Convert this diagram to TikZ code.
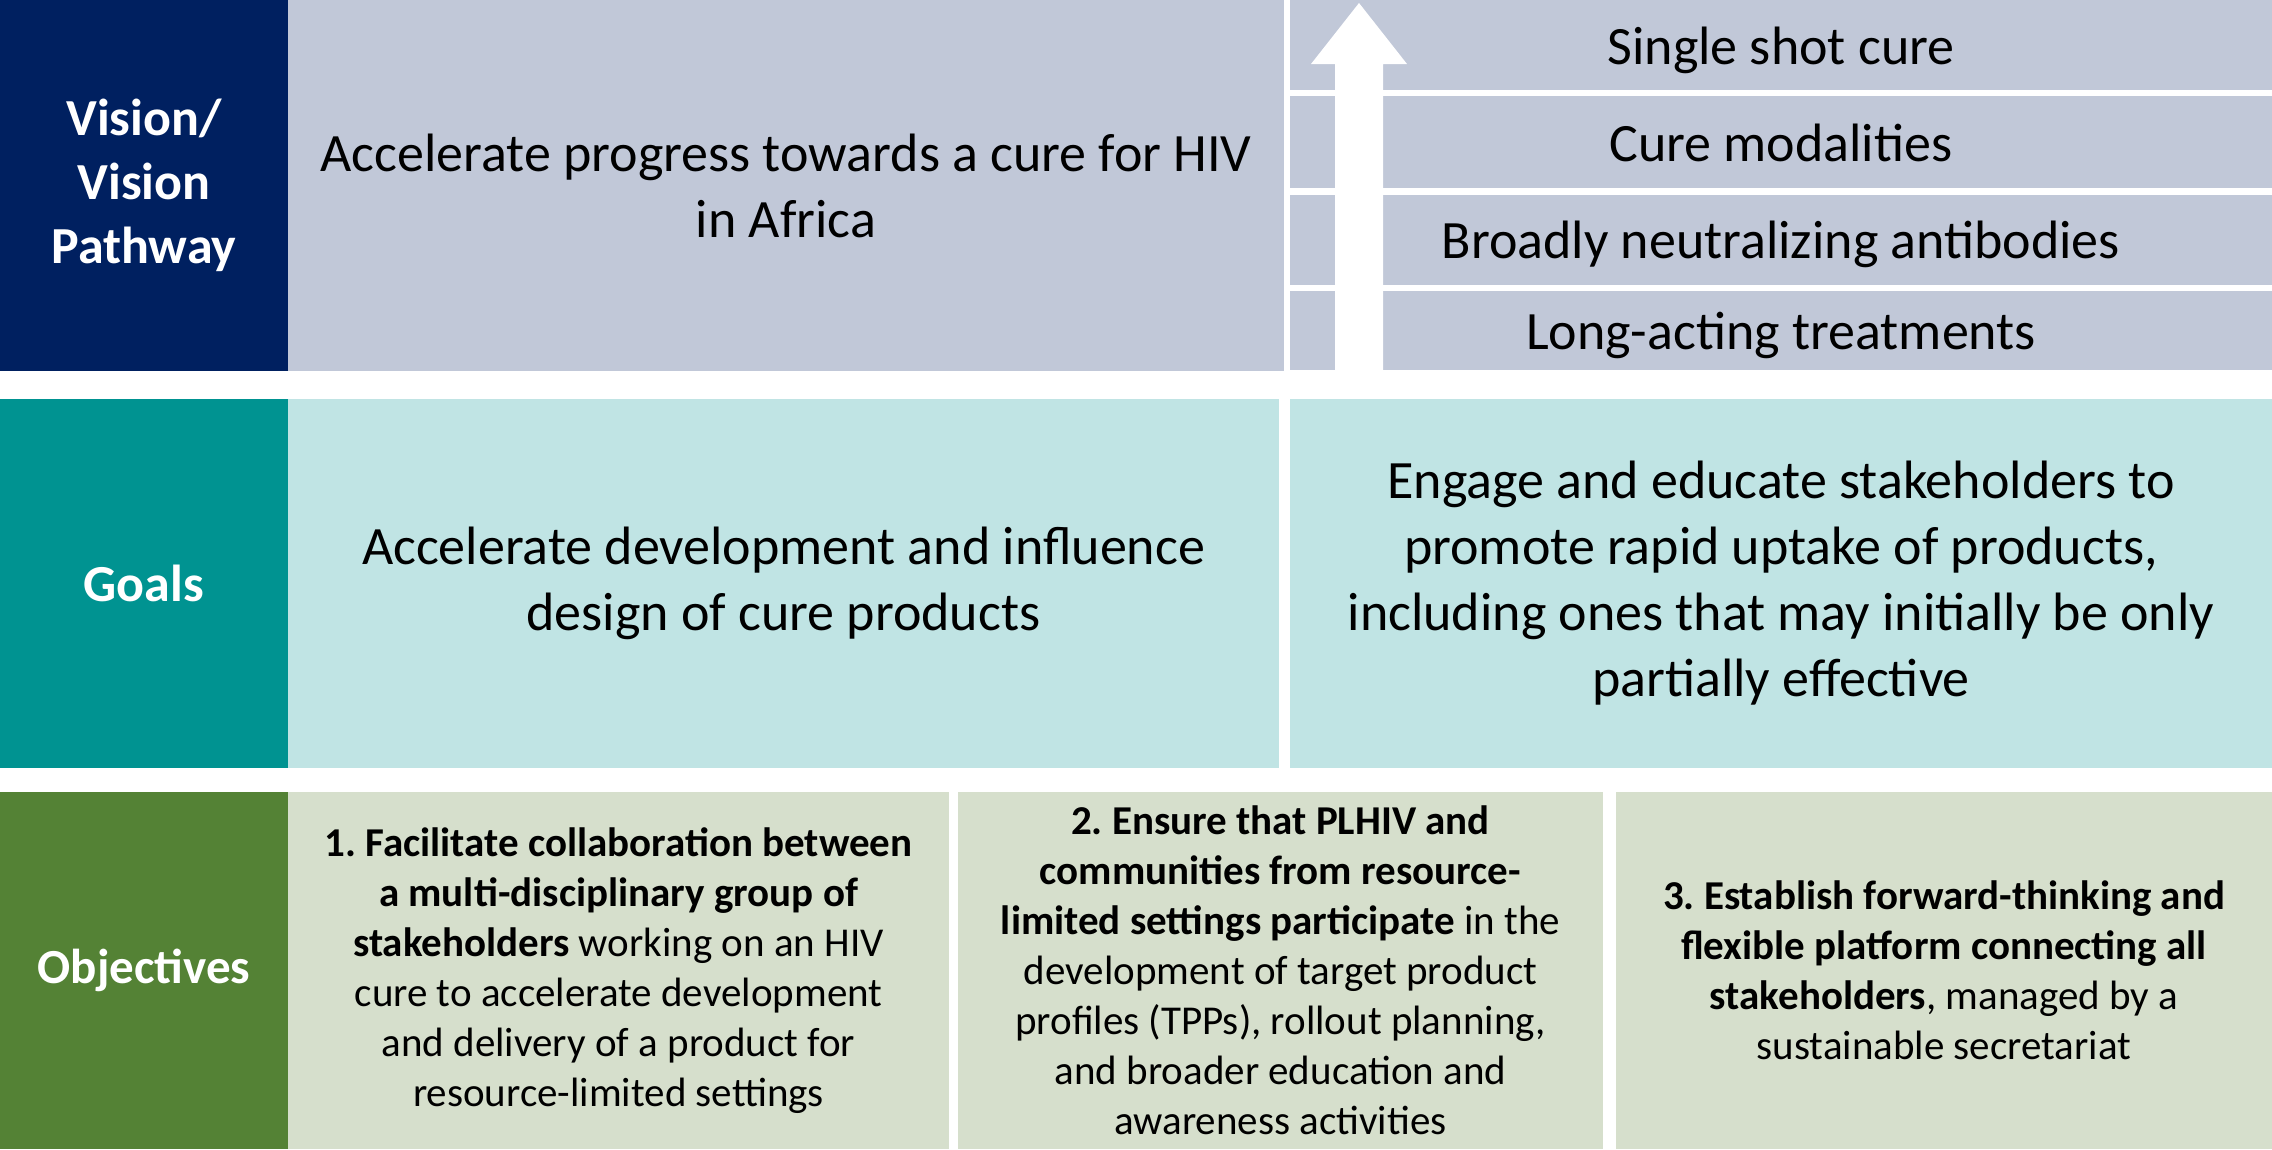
\documentclass[tikz,border=0pt]{standalone}
\usepackage{fontspec}
\setmainfont{Carlito}
\frenchspacing
\definecolor{navy}{RGB}{0,32,96}
\definecolor{lav}{RGB}{193,200,216}
\definecolor{teal}{RGB}{0,147,145}
\definecolor{lteal}{RGB}{192,228,228}
\definecolor{grn}{RGB}{84,130,53}
\definecolor{lgrn}{RGB}{214,223,204}
\tikzset{
  cell/.style={inner sep=0pt, outer sep=0pt, align=center, text=black},
  lab/.style={cell, text=white, font=\fontsize{52}{64}\selectfont\bfseries},
  big/.style={cell, font=\fontsize{54}{66}\selectfont},
  obj/.style={cell, font=\fontsize{41}{50}\selectfont},
}
\begin{document}
\begin{tikzpicture}[x=1pt,y=-1pt]
\useasboundingbox[fill=white] (0,0) rectangle (2272,1149);
% Vision row
\node[lab, fill=navy, minimum width=288pt, minimum height=371pt] (vl) at (144,185.5) {Vision/\\Vision\\Pathway};
\node[big, fill=lav, minimum width=996pt, minimum height=371pt] (vt) at (786,185.5) {Accelerate progress towards a cure for HIV\\in Africa};
\node[big, fill=lav, minimum width=982pt, minimum height=90pt] (r1) at (1781,45) {};
\node[big, fill=lav, minimum width=982pt, minimum height=92pt] (r2) at (1781,142) {};
\node[big, fill=lav, minimum width=982pt, minimum height=90pt] (r3) at (1781,240) {};
\node[big, fill=lav, minimum width=982pt, minimum height=79pt] (r4) at (1781,330.5) {};
\node[big] (t1) at ([yshift=-5pt]r1.center) {Single shot cure};
\node[big] (t2) at ([yshift=-1pt]r2.center) {Cure modalities};
\node[big] (t3) at ([yshift=-4pt]r3.center) {Broadly neutralizing antibodies};
\node[big] (t4) at ([yshift=-5pt]r4.center) {Long-acting treatments};
% white arrow
\fill[white] (1359,3) -- (1407,64) -- (1383,64) -- (1383,372) -- (1335,372) -- (1335,64) -- (1311,64) -- cycle;
% Goals row
\node[lab, fill=teal, minimum width=288pt, minimum height=369pt] (gl) at (144,583.5) {Goals};
\node[big, fill=lteal, minimum width=991pt, minimum height=369pt] (gt1) at (783.5,583.5) {Accelerate development and influence\\design of cure products};
\node[big, fill=lteal, minimum width=982pt, minimum height=369pt] (gt2) at (1781,583.5) {Engage and educate stakeholders to\\promote rapid uptake of products,\\including ones that may initially be only\\partially effective};
% Objectives row
\node[lab, fill=grn, minimum width=288pt, minimum height=357pt, font=\fontsize{49}{60}\selectfont\bfseries] (ol) at (144,970.5) {Objectives};
\node[obj, fill=lgrn, minimum width=661pt, minimum height=357pt] (o1) at (618.5,970.5) {\textbf{1. Facilitate collaboration between}\\\textbf{a multi-disciplinary group of}\\\textbf{stakeholders} working on an HIV\\cure to accelerate development\\and delivery of a product for\\resource-limited settings};
\node[obj, fill=lgrn, minimum width=645pt, minimum height=357pt] (o2) at (1280.5,970.5) {\textbf{2. Ensure that PLHIV and}\\\textbf{communities from resource-}\\\textbf{limited settings participate} in the\\development of target product\\profiles (TPPs), rollout planning,\\and broader education and\\awareness activities};
\node[obj, fill=lgrn, minimum width=656pt, minimum height=357pt] (o3) at (1944,970.5) {\textbf{3. Establish forward-thinking and}\\\textbf{flexible platform connecting all}\\\textbf{stakeholders}, managed by a\\sustainable secretariat};
\end{tikzpicture}
\end{document}
